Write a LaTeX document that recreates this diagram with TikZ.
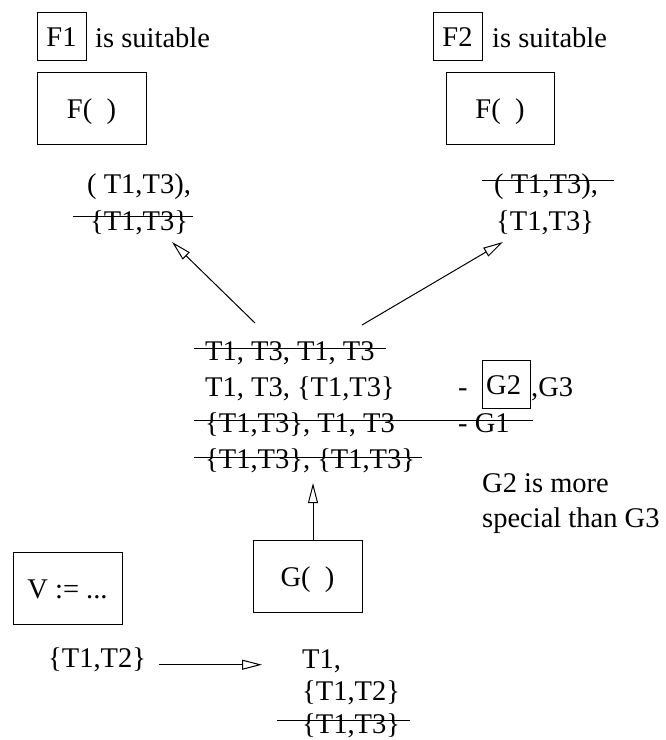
\documentclass[tikz,border=0pt]{standalone}
\usepackage{fontspec}
\setmainfont{Liberation Serif}
\usetikzlibrary{arrows.meta, calc}

\begin{document}
\begin{tikzpicture}[
    x=1pt, y=-1pt,
    every node/.style={font=\fontsize{28.5}{35}\selectfont, inner sep=0pt},
    txt/.style={anchor=base west},
    box/.style={rectangle, draw, line width=1pt, text height=21pt, text depth=0pt},
    arr/.style={-{Triangle[open, length=20pt, width=10pt]}, line width=1pt},
    strike/.style={line width=1pt}
]
    \useasboundingbox (0,0) rectangle (665,740);

    % left branch: F1
    \node[box, minimum width=49pt, minimum height=48pt] (f1) at (61.5,36) {F1};
    \node[txt] (f1suit) at (95,47) {is suitable};
    \node[box, minimum width=109pt, minimum height=72pt] (fleft) at (91.5,108) {F(\enspace)};
    \node[txt] (la) at (87,193) {( T1,T3),};
    \node[txt] (lb) at (90,230) {\{T1,T3\}};
    \draw[strike] ($(lb.base west)+(-17,-14)$) -- ($(lb.base east)+(5,-14)$);

    % right branch: F2
    \node[box, minimum width=49pt, minimum height=48pt] (f2) at (457.5,36) {F2};
    \node[txt] (f2suit) at (492,47) {is suitable};
    \node[box, minimum width=108pt, minimum height=72pt] (fright) at (500,108) {F(\enspace)};
    \node[txt] (ra) at (494,193) {( T1,T3),};
    \node[txt] (rb) at (496,230) {\{T1,T3\}};
    \draw[strike] ($(ra.base west)+(-12,-13)$) -- ($(ra.base east)+(16,-13)$);

    % candidate argument lists
    \node[txt] (r1) at (205,360) {T1, T3, T1, T3};
    \node[txt] (r2) at (205,396) {T1, T3, \{T1,T3\}};
    \node[txt] (r3) at (205,432) {\{T1,T3\}, T1, T3};
    \node[txt] (r4) at (205,468) {\{T1,T3\}, \{T1,T3\}};
    \node[txt] (dash2) at (458,396) {-};
    \node[box, minimum width=48pt, minimum height=48pt] (g2) at (506,384) {G2\,};
    \node[txt] (g3) at (531,396) {,G3};
    \node[txt] (g1) at (458,432) {- G1};
    \draw[strike] ($(r1.base west)+(-11,-12)$) -- ($(r1.base east)+(11,-12)$);
    \draw[strike] ($(r3.base west)+(-11,-12)$) -- ($(g1.base east)+(23,-12)$);
    \draw[strike] ($(r4.base west)+(-11,-11)$) -- ($(r4.base east)+(7,-11)$);
    \node[txt] (note1) at (482,492) {G2 is more};
    \node[txt] (note2) at (482,527) {special than G3};

    % calls
    \node[box, minimum width=109pt, minimum height=72pt] (gcall) at (307.5,576) {G(\enspace)};
    \node[box, minimum width=109pt, minimum height=72pt] (vdef) at (67.5,588) {V := ...};
    \node[txt] (vt) at (48,667) {\{T1,T2\}};
    \node[txt] (b1) at (302,668) {T1,};
    \node[txt] (b2) at (302,700) {\{T1,T2\}};
    \node[txt] (b3) at (302,733) {\{T1,T3\}};
    \draw[strike] ($(b3.base west)+(-25,-13)$) -- ($(b3.base east)+(10,-13)$);

    % connectors
    \coordinate (upl) at (255,323);
    \coordinate (upr) at (362,325);
    \coordinate (tipl) at (172,242);
    \coordinate (tipr) at (503,242);
    \coordinate (tipg) at (313,483);
    \draw[arr] (upl) -- (tipl);
    \draw[arr] (upr) -- (tipr);
    \draw[arr] (gcall.north -| tipg) -- (tipg);
    \draw[arr, shorten <=13pt, shorten >=40pt] (vt.mid east) -- (vt.mid east -| b1.west);
\end{tikzpicture}
\end{document}
